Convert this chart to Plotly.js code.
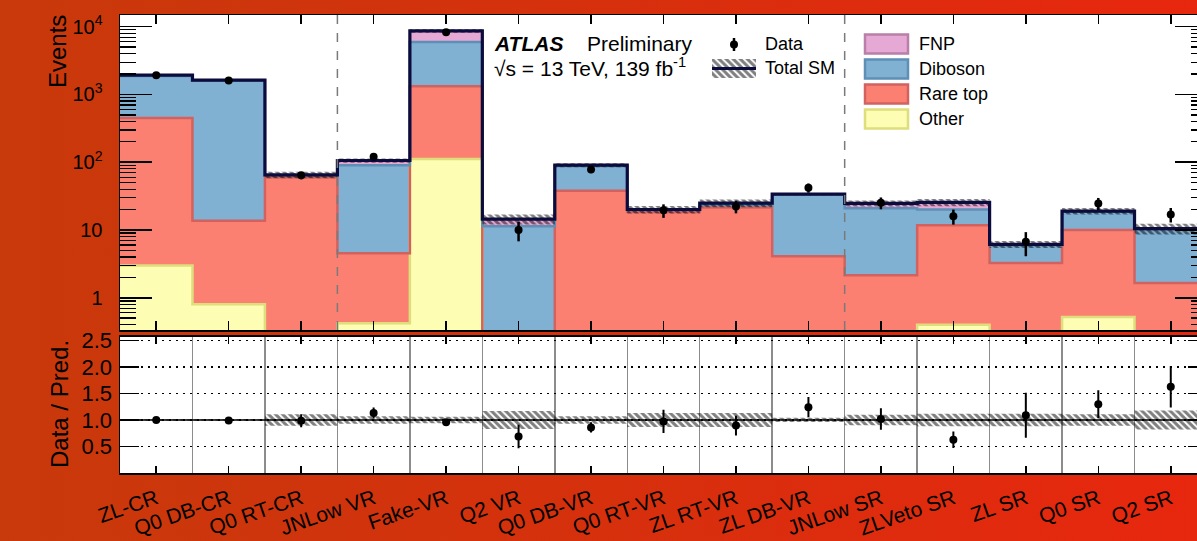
<!DOCTYPE html>
<html><head><meta charset="utf-8">
<script src="https://cdn.plot.ly/plotly-3.0.1.min.js"></script>
<style>
html,body{margin:0;padding:0;width:1197px;height:541px;overflow:hidden;background:linear-gradient(to right,#c8390b 0%,#d6300d 50%,#e7270e 100%);}
#chart{width:1230px;height:541px;}
</style></head><body><div id="chart"></div>
<script>
// ---------------- data ----------------
const categories = ['ZL-CR','Q0 DB-CR','Q0 RT-CR','JNLow VR','Fake-VR','Q2 VR','Q0 DB-VR','Q0 RT-VR','ZL RT-VR','ZL DB-VR','JNLow SR','ZLVeto SR','ZL SR','Q0 SR','Q2 SR'];
const other   = [3.0, 0.80, 0.30, 0.42, 112, 0.05, 0.15, 0.15, 0.15, 0.15, 0.15, 0.40, 0.15, 0.52, 0.15];
const rareTop = [447, 12.9, 59.7, 4.1, 1213, 0.2, 37.9, 18.3, 21.3, 3.95, 2.0, 11.3, 3.1, 9.5, 1.5];
const diboson = [1430, 1586, 4.0, 85.5, 4645, 11.15, 50, 1.3, 2.0, 28.9, 18.7, 8.4, 2.7, 8.5, 8.6];
const fnp     = [50, 25, 1.0, 16, 2700, 3.1, 2.6, 0.3, 1.5, 0.8, 3.9, 5.4, 0.2, 0.5, 0.2];
const dataObs = [1930, 1610, 64, 120, 8300, 10, 78, 19.5, 22.3, 42, 25.2, 16, 6.7, 24.7, 17];
const dataErr = [44, 40, 8, 11, 91, 3.2, 8.8, 4.4, 4.7, 6.5, 5.0, 4.0, 2.6, 5.0, 4.1];
const systRel = [0.02, 0.02, 0.11, 0.07, 0.06, 0.17, 0.07, 0.13, 0.13, 0.04, 0.10, 0.12, 0.12, 0.11, 0.18];
const yTickVals = [1, 10, 100, 1000, 10000];
const yTickText = ['1', '10', '10<sup>2</sup>', '10<sup>3</sup>', '10<sup>4</sup>'];
const rTickVals = [0.5, 1.0, 1.5, 2.0, 2.5];
const rTickText = ['0.5', '1.0', '1.5', '2.0', '2.5'];

// ---------------- geometry helpers ----------------
const W = 1230, H = 541, L = 120, R = 23, T = 15, B = 68;
const PW = W - L - R, PH = H - T - B;
const fx = px => (px - L) / PW;
const fy = py => (H - B - py) / PH;
const FONT = 'Liberation Sans, Arial, Helvetica, sans-serif';

const N = categories.length;
const centers = categories.map((_, i) => i);
const edges = Array.from({length: N + 1}, (_, i) => i - 0.5);
const step = v => v.concat([v[v.length - 1]]);

// minor log ticks 2..9 x 10^d
const minorLog = [];
for (let d = -1; d <= 4; d++) for (let k = 2; k <= 9; k++) minorLog.push(k * Math.pow(10, d));

const c1 = other.slice();
const c2 = c1.map((v, i) => v + rareTop[i]);
const c3 = c2.map((v, i) => v + diboson[i]);
const total = c3.map((v, i) => v + fnp[i]);
const bandLo = total.map((v, i) => v * (1 - systRel[i]));
const bandHi = total.map((v, i) => v * (1 + systRel[i]));
const ratio = dataObs.map((v, i) => v / total[i]);
const ratioErr = dataErr.map((v, i) => v / total[i]);
const rLo = systRel.map(e => 1 - e);
const rHi = systRel.map(e => 1 + e);

const COL = {
  other:  {fill: '#fdfdb3', line: '#dede7c'},
  rare:   {fill: '#fb8072', line: '#d2625f'},
  dib:    {fill: '#80b1d3', line: '#5e8fb6'},
  fnp:    {fill: '#e6a8d4', line: '#b97fa8'}
};
const NAVY = '#0b0b3d';
const hatch = {shape: '\\', fgcolor: '#000', bgcolor: 'rgba(0,0,0,0)', size: 5, solidity: 0.6, fillmode: 'overlay'};

const traces = [];
function bar(y, c) {
  traces.push({type: 'bar', x: centers, y: y, width: 1, xaxis: 'x', yaxis: 'y',
    marker: {color: c.fill, line: {width: 0}}, hoverinfo: 'skip', showlegend: false});
}
bar(other, COL.other); bar(rareTop, COL.rare); bar(diboson, COL.dib); bar(fnp, COL.fnp);
function stepLine(y, color, width, xa, ya) {
  traces.push({type: 'scatter', mode: 'lines', x: edges, y: step(y), xaxis: xa || 'x', yaxis: ya || 'y',
    line: {shape: 'hv', color: color, width: width}, hoverinfo: 'skip', showlegend: false});
}
stepLine(c1, COL.other.line, 2.5);
stepLine(c2, COL.rare.line, 2.5);
stepLine(c3, COL.dib.line, 2.5);
// hatched band (top)
traces.push({type: 'scatter', mode: 'lines', x: edges, y: step(bandLo), xaxis: 'x', yaxis: 'y',
  line: {shape: 'hv', width: 0}, hoverinfo: 'skip', showlegend: false});
traces.push({type: 'scatter', mode: 'lines', x: edges, y: step(bandHi), xaxis: 'x', yaxis: 'y',
  line: {shape: 'hv', width: 0}, fill: 'tonexty', fillcolor: 'rgba(0,0,0,0)', fillpattern: hatch,
  hoverinfo: 'skip', showlegend: false});
stepLine(total, NAVY, 3.2);
traces.push({type: 'scatter', mode: 'markers', x: centers, y: dataObs, xaxis: 'x', yaxis: 'y',
  marker: {color: 'black', size: 8},
  error_y: {type: 'data', array: dataErr, visible: true, color: 'black', thickness: 2.5, width: 0},
  hoverinfo: 'skip', showlegend: false});

// ratio panel
traces.push({type: 'scatter', mode: 'lines', x: edges, y: step(rLo), xaxis: 'x2', yaxis: 'y2',
  line: {shape: 'hv', width: 0}, hoverinfo: 'skip', showlegend: false});
traces.push({type: 'scatter', mode: 'lines', x: edges, y: step(rHi), xaxis: 'x2', yaxis: 'y2',
  line: {shape: 'hv', width: 0}, fill: 'tonexty', fillcolor: 'rgba(0,0,0,0)', fillpattern: hatch,
  hoverinfo: 'skip', showlegend: false});
stepLine(edges.slice(0, N).map(() => 1), 'black', 1.5, 'x2', 'y2');
traces.push({type: 'scatter', mode: 'markers', x: centers, y: ratio, xaxis: 'x2', yaxis: 'y2',
  marker: {color: 'black', size: 8},
  error_y: {type: 'data', array: ratioErr, visible: true, color: 'black', thickness: 2, width: 0},
  hoverinfo: 'skip', showlegend: false});

// legend icon (Total SM) on its own small axes
traces.push({type: 'scatter', mode: 'lines', x: [0, 1, 1, 0, 0], y: [0, 0, 1, 1, 0], xaxis: 'x3', yaxis: 'y3',
  line: {width: 0}, fill: 'toself', fillcolor: 'rgba(0,0,0,0)', fillpattern: hatch, hoverinfo: 'skip', showlegend: false});
traces.push({type: 'scatter', mode: 'lines', x: [0, 1], y: [0.5, 0.5], xaxis: 'x3', yaxis: 'y3',
  line: {color: NAVY, width: 3.2}, hoverinfo: 'skip', showlegend: false});

const axBase = {showline: true, linecolor: 'black', linewidth: 1.5, mirror: 'ticks', ticks: 'inside',
  tickcolor: 'black', tickwidth: 1.5, zeroline: false, showgrid: false, fixedrange: true};

const shapes = [];
[2.5, 9.5].forEach(x => shapes.push({type: 'line', xref: 'x', yref: 'y domain', x0: x, x1: x, y0: 0, y1: 1,
  line: {color: '#7a7a7a', width: 1.5, dash: 'dash'}, layer: 'above'}));
// legend boxes
const legItems = [['FNP', COL.fnp], ['Diboson', COL.dib], ['Rare top', COL.rare], ['Other', COL.other]];
const annotations = [];
legItems.forEach((it, k) => {
  const cy = 44 + k * 25;
  shapes.push({type: 'rect', xref: 'paper', yref: 'paper', x0: fx(865), x1: fx(908), y0: fy(cy - 9.5), y1: fy(cy + 9.5),
    fillcolor: it[1].fill, line: {color: it[1].line, width: 2.5}, layer: 'above'});
  annotations.push({xref: 'paper', yref: 'paper', x: fx(917), y: fy(cy), xanchor: 'left', yanchor: 'middle',
    text: it[0], showarrow: false, font: {family: FONT, size: 18, color: 'black'}});
});
// Data legend marker
shapes.push({type: 'line', xref: 'paper', yref: 'paper', x0: fx(734), x1: fx(734), y0: fy(38), y1: fy(51),
  line: {color: 'black', width: 2.5}, layer: 'above'});
shapes.push({type: 'circle', xref: 'paper', yref: 'paper', x0: fx(730), x1: fx(738), y0: fy(40.5), y1: fy(48.5),
  fillcolor: 'black', line: {color: 'black', width: 0}, layer: 'above'});
annotations.push({xref: 'paper', yref: 'paper', x: fx(763), y: fy(44), xanchor: 'left', yanchor: 'middle',
  text: 'Data', showarrow: false, font: {family: FONT, size: 18, color: 'black'}});
annotations.push({xref: 'paper', yref: 'paper', x: fx(763), y: fy(68), xanchor: 'left', yanchor: 'middle',
  text: 'Total SM', showarrow: false, font: {family: FONT, size: 18, color: 'black'}});
// ATLAS label
annotations.push({xref: 'paper', yref: 'paper', x: fx(492), y: fy(43), xanchor: 'left', yanchor: 'middle',
  text: '<b><i>ATLAS</i></b>', showarrow: false, font: {family: FONT, size: 21, color: 'black'}});
annotations.push({xref: 'paper', yref: 'paper', x: fx(585), y: fy(43), xanchor: 'left', yanchor: 'middle',
  text: 'Preliminary', showarrow: false, font: {family: FONT, size: 21, color: 'black'}});
annotations.push({xref: 'paper', yref: 'paper', x: fx(492), y: fy(67), xanchor: 'left', yanchor: 'middle',
  text: '√s = 13 TeV, 139 fb<sup>-1</sup>', showarrow: false, font: {family: FONT, size: 21, color: 'black'}});
// axis titles
annotations.push({xref: 'paper', yref: 'paper', x: fx(57), y: fy(52), xanchor: 'center', yanchor: 'middle',
  textangle: -90, text: 'Events', showarrow: false, font: {family: FONT, size: 24, color: 'black'}});
annotations.push({xref: 'paper', yref: 'paper', x: fx(59), y: fy(404), xanchor: 'center', yanchor: 'middle',
  textangle: -90, text: 'Data / Pred.', showarrow: false, font: {family: FONT, size: 24, color: 'black'}});

const layout = {
  width: W, height: H,
  margin: {l: L, r: R, t: T, b: B, pad: 0},
  paper_bgcolor: 'rgba(0,0,0,0)', plot_bgcolor: 'white',
  barmode: 'stack', bargap: 0, showlegend: false,
  font: {family: FONT, color: 'black'},
  xaxis: Object.assign({}, axBase, {domain: [0, 1], anchor: 'y', range: [-0.5, N - 0.5],
    tickmode: 'array', tickvals: centers, showticklabels: false, ticklen: 9}),
  yaxis: Object.assign({}, axBase, {domain: [fy(330), 1], anchor: 'x', type: 'log', range: [-0.476, 4.173],
    tickmode: 'array', tickvals: yTickVals, ticktext: yTickText, ticklen: 32,
    ticklabelstandoff: 12, tickfont: {family: FONT, size: 20, color: 'black'},
    minor: {ticks: 'inside', ticklen: 16, tickwidth: 1.3, tickcolor: 'black', tickmode: 'array', tickvals: minorLog, showgrid: false}}),
  xaxis2: Object.assign({}, axBase, {domain: [0, 1], anchor: 'y2', range: [-0.5, N - 0.5],
    tickmode: 'array', tickvals: centers, ticktext: categories, tickangle: -19, ticklen: 7,
    ticklabelstandoff: 4, tickfont: {family: FONT, size: 21, color: 'black'},
    minor: {tickmode: 'linear', tick0: 0.5, dtick: 1, ticks: '', showgrid: true, gridcolor: '#8c8c8c', gridwidth: 1.5}}),
  yaxis2: Object.assign({}, axBase, {domain: [0, fy(336.5)], anchor: 'x2', range: [0, 2.575],
    tickmode: 'array', tickvals: rTickVals, ticktext: rTickText, ticklen: 19,
    showgrid: true, gridcolor: 'black', gridwidth: 1.6, griddash: '2px,5px',
    ticklabelstandoff: 2, tickfont: {family: FONT, size: 22, color: 'black'}}),
  xaxis3: {domain: [fx(712), fx(756)], anchor: 'y3', range: [0, 1], visible: false, fixedrange: true},
  yaxis3: {domain: [fy(78), fy(59)], anchor: 'x3', range: [0, 1], visible: false, fixedrange: true},
  shapes: shapes,
  annotations: annotations
};

Plotly.newPlot('chart', traces, layout, {staticPlot: true, displayModeBar: false});
</script></body></html>
